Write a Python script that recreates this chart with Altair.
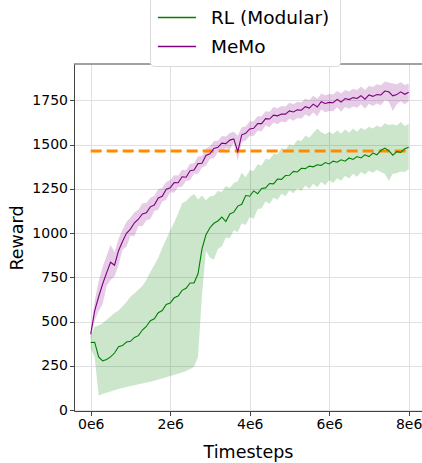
import altair as alt
import pandas as pd

# x sampling: every 0.1e6 timesteps from 0 to 8e6
steps = [i * 100000 for i in range(81)]

memo_mean = [428, 560, 640, 712, 775, 835, 818, 900, 952, 998,
             1022, 1058, 1078, 1108, 1114, 1148, 1158, 1198, 1208, 1248,
             1255, 1285, 1284, 1318, 1315, 1352, 1356, 1392, 1394, 1438,
             1448, 1478, 1484, 1508, 1505, 1525, 1532, 1460, 1555, 1563,
             1588, 1592, 1618, 1618, 1646, 1644, 1666, 1662, 1672, 1672,
             1690, 1684, 1696, 1694, 1714, 1706, 1728, 1712, 1742, 1732,
             1738, 1736, 1755, 1740, 1760, 1754, 1765, 1760, 1776, 1756,
             1780, 1772, 1782, 1780, 1802, 1798, 1775, 1782, 1798, 1784,
             1795]
memo_lo = [408, 505, 560, 598, 700, 735, 755, 818, 905, 922,
           985, 982, 1040, 1038, 1072, 1078, 1125, 1132, 1178, 1188,
           1230, 1228, 1260, 1262, 1295, 1298, 1335, 1335, 1370, 1380,
           1420, 1422, 1458, 1455, 1480, 1472, 1508, 1410, 1516, 1522,
           1550, 1548, 1578, 1575, 1608, 1598, 1625, 1615, 1630, 1625,
           1645, 1635, 1650, 1645, 1670, 1658, 1682, 1660, 1698, 1682,
           1690, 1688, 1710, 1685, 1712, 1702, 1715, 1708, 1728, 1702,
           1730, 1718, 1732, 1722, 1750, 1742, 1690, 1728, 1745, 1728,
           1745]
memo_hi = [448, 615, 728, 808, 872, 932, 892, 968, 1018, 1062,
           1088, 1118, 1132, 1168, 1170, 1200, 1210, 1248, 1255, 1290,
           1298, 1326, 1325, 1358, 1355, 1392, 1394, 1432, 1435, 1478,
           1490, 1520, 1522, 1548, 1545, 1565, 1572, 1550, 1598, 1602,
           1630, 1632, 1660, 1660, 1688, 1685, 1712, 1705, 1718, 1715,
           1736, 1728, 1742, 1738, 1760, 1750, 1775, 1758, 1788, 1778,
           1786, 1782, 1802, 1788, 1808, 1800, 1815, 1808, 1828, 1808,
           1832, 1825, 1840, 1835, 1856, 1850, 1845, 1840, 1852, 1836,
           1845]

rl_mean = [381, 383, 300, 278, 285, 300, 322, 358, 364, 384,
           388, 410, 420, 452, 472, 505, 515, 550, 562, 596,
           604, 634, 644, 676, 688, 718, 718, 770, 910, 990,
           1030, 1055, 1068, 1090, 1065, 1108, 1118, 1152, 1162, 1212,
           1208, 1238, 1222, 1252, 1255, 1280, 1278, 1305, 1303, 1325,
           1326, 1348, 1345, 1366, 1364, 1378, 1374, 1386, 1382, 1398,
           1390, 1406, 1400, 1414, 1406, 1424, 1416, 1432, 1424, 1442,
           1432, 1452, 1442, 1466, 1480, 1465, 1440, 1460, 1456, 1476,
           1485]
rl_lo = [345, 300, 80, 90, 98, 105, 112, 118, 125, 130,
         135, 140, 145, 150, 155, 160, 165, 172, 178, 185,
         192, 198, 205, 212, 220, 232, 245, 300, 650, 900,
         860, 850, 910, 925, 975, 970, 1015, 1005, 1055, 1045,
         1090, 1080, 1135, 1140, 1178, 1165, 1200, 1188, 1222, 1208,
         1240, 1225, 1252, 1238, 1268, 1250, 1278, 1258, 1288, 1270,
         1298, 1282, 1310, 1295, 1322, 1308, 1335, 1318, 1345, 1330,
         1352, 1340, 1356, 1345, 1335, 1295, 1335, 1338, 1348, 1345,
         1360]
rl_hi = [420, 470, 478, 490, 510, 528, 548, 562, 585, 610,
         640, 660, 680, 700, 735, 780, 820, 860, 915, 965,
         1015, 1060, 1110, 1170, 1180, 1205, 1220, 1190, 1212, 1185,
         1208, 1210, 1238, 1232, 1265, 1255, 1282, 1292, 1340, 1315,
         1355, 1352, 1388, 1382, 1420, 1415, 1448, 1445, 1480, 1470,
         1502, 1495, 1525, 1520, 1550, 1540, 1565, 1590, 1570, 1558,
         1572, 1560, 1580, 1562, 1585, 1566, 1590, 1572, 1595, 1582,
         1600, 1590, 1608, 1598, 1620, 1610, 1615, 1608, 1628, 1605,
         1618]

baseline_t = [0, 8000000]
baseline_v = [1464, 1464]

series_names = ["RL (Modular)", "MeMo"]
series_colors = ["#008000", "#800080"]
x_ticks = [0, 2000000, 4000000, 6000000, 8000000]
y_ticks = [0, 250, 500, 750, 1000, 1250, 1500, 1750]

rows = []
for name, m, lo, hi in [("RL (Modular)", rl_mean, rl_lo, rl_hi),
                        ("MeMo", memo_mean, memo_lo, memo_hi)]:
    for t, a, b, c in zip(steps, m, lo, hi):
        rows.append({"series": name, "t": t, "mean": a, "lo": b, "hi": c})
df = pd.DataFrame(rows)
df_base = pd.DataFrame({"t": baseline_t, "v": baseline_v})

W, H = 348, 347
FONT = "DejaVu Sans"
SPINE = "#444444"

xscale = alt.Scale(domain=[-420000, 8335000], nice=False, zero=False)
yscale = alt.Scale(domain=[-5.6, 1955], nice=False, zero=False)

xaxis = alt.Axis(values=x_ticks, labelExpr="(datum.value/1000000) + 'e6'",
                 title="Timesteps", grid=True, gridColor="#e0e0e0",
                 tickSize=4.5, tickColor=SPINE, domainColor=SPINE,
                 labelFontSize=14, titleFontSize=17.5, labelFont=FONT,
                 titleFont=FONT, labelColor="black", titleColor="black",
                 titleFontWeight="normal", labelPadding=2, titlePadding=12,
                 labelFlush=False)
yaxis = alt.Axis(values=y_ticks, format="d", title="Reward", grid=True,
                 gridColor="#e0e0e0",
                 tickSize=4.5, tickColor=SPINE, domainColor=SPINE,
                 labelFontSize=14, titleFontSize=17.5, labelFont=FONT,
                 titleFont=FONT, labelColor="black", titleColor="black",
                 titleFontWeight="normal", labelPadding=2, titlePadding=5,
                 labelFlush=False)

cscale = alt.Scale(domain=series_names, range=series_colors)


def band_for(name, color):
    return alt.Chart(df).transform_filter(
        alt.datum.series == name
    ).mark_area(color=color, fillOpacity=0.2, strokeWidth=0).encode(
        x=alt.X("t:Q", scale=xscale, axis=xaxis),
        y=alt.Y("lo:Q", scale=yscale, axis=yaxis),
        y2="hi:Q",
    )


band_rl = band_for(series_names[0], series_colors[0])
band_memo = band_for(series_names[1], series_colors[1])

base_line = alt.Chart(df_base).mark_line(
    color="#ff8c00", strokeWidth=3, strokeDash=[11, 5]
).encode(
    x=alt.X("t:Q", scale=xscale, axis=xaxis),
    y=alt.Y("v:Q", scale=yscale, axis=yaxis),
)

lines = alt.Chart(df).mark_line(strokeWidth=1.1).encode(
    x=alt.X("t:Q", scale=xscale, axis=xaxis),
    y=alt.Y("mean:Q", scale=yscale, axis=yaxis),
    color=alt.Color("series:N", scale=cscale, legend=alt.Legend(
        orient="none", legendX=76, legendY=-67, title=None,
        labelFontSize=18.5, labelFont=FONT, labelColor="black",
        symbolType="M-1.32,0H2.68", symbolSize=361, symbolStrokeWidth=1.5,
        padding=10, rowPadding=9, labelOffset=30,
        strokeColor="#d9d9d9", fillColor="white",
        cornerRadius=4)),
)

top_spine = alt.Chart(pd.DataFrame({"k": [0]})).mark_rule(
    color=SPINE, strokeWidth=1
).encode(x=alt.value(0), x2=alt.value(W), y=alt.value(0))

chart = alt.layer(band_rl, band_memo, base_line, lines, top_spine).properties(
    width=W, height=H,
    autosize=alt.AutoSizeParams(type="none"),
    padding={"left": 74, "top": 64, "right": 0, "bottom": 52},
).configure_view(stroke=None)

chart.save("out.html", embed_options={"renderer": "svg", "actions": False})
